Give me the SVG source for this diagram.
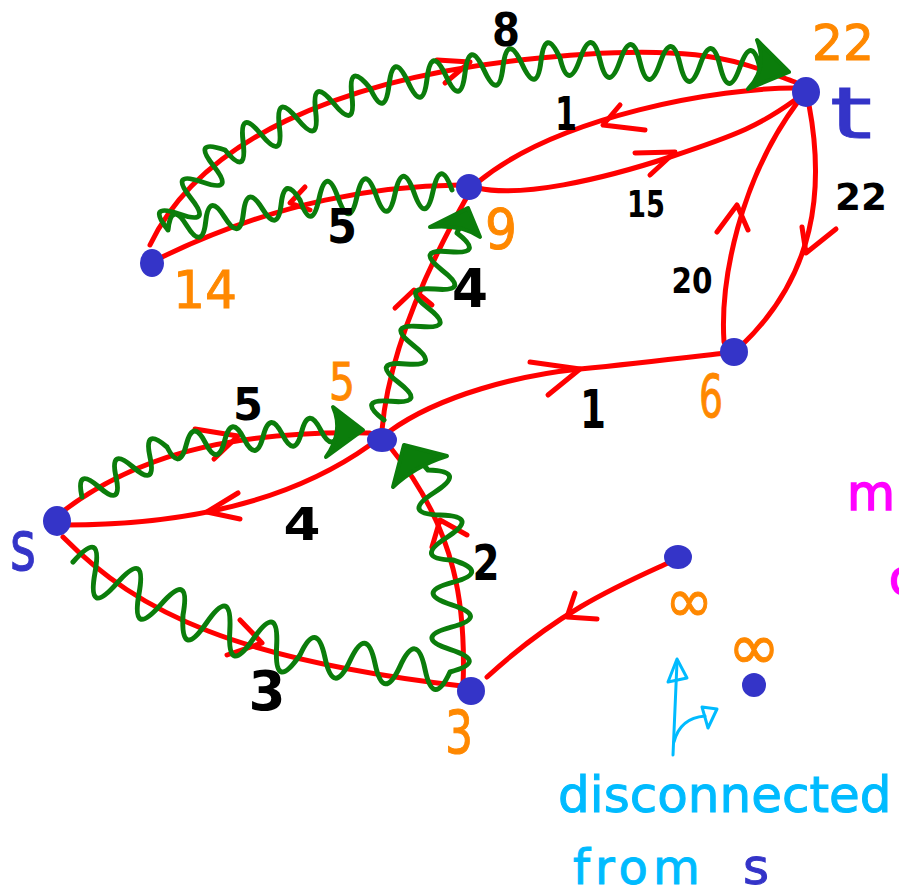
<svg xmlns="http://www.w3.org/2000/svg" width="899" height="895" viewBox="0 0 899 895">
<style>
.e{fill:none;stroke:#ff0000;stroke-width:5;stroke-linecap:round;stroke-linejoin:round}
.w{fill:none;stroke:#0b7d0b;stroke-width:5;stroke-linecap:round;stroke-linejoin:round}
.h{fill:#0b7d0b;stroke:#0b7d0b;stroke-width:4;stroke-linejoin:round}
.n{fill:#3434c8}
.k{font-family:"DejaVu Sans",sans-serif;font-weight:bold;fill:#000;text-anchor:middle}
.o{font-family:"DejaVu Sans",sans-serif;fill:#ff8800;stroke:#ff8800;stroke-width:1;text-anchor:middle}
.b{font-family:"DejaVu Sans",sans-serif;fill:#3434c8;stroke:#3434c8;stroke-width:1}
.c{font-family:"DejaVu Sans",sans-serif;fill:#00bbff;stroke:#00bbff;stroke-width:1}
.m{font-family:"DejaVu Sans",sans-serif;fill:#ff00ff;stroke:#ff00ff;stroke-width:1.5}
.a{fill:none;stroke:#00bbff;stroke-width:3;stroke-linecap:round;stroke-linejoin:round}
</style>
<rect width="899" height="895" fill="#ffffff"/>
<g id="connectors">
  <path class="e" d="M62,512 C130,460 220,430 370,433"/>
  <path class="e" d="M195,429 L238,436 L214,459"/>
  <path class="e" d="M370,445 C300,495 200,525 65,525"/>
  <path class="e" d="M238,493 L207,512 L240,519"/>
  <path class="e" d="M63,537 C140,615 240,660 462,686"/>
  <path class="e" d="M240,620 L262,643 L227,655"/>
  <path class="e" d="M463,686 C466,610 458,530 390,447"/>
  <path class="e" d="M432,547 L440,520 L467,535"/>
  <path class="e" d="M382,430 C388,360 420,280 468,195"/>
  <path class="e" d="M395,308 L414,290 L432,305"/>
  <path class="e" d="M390,431 C440,395 520,375 580,369 S690,357 725,353"/>
  <path class="e" d="M530,362 L580,369 L548,395"/>
  <path class="e" d="M724,342 C720,280 740,180 797,103"/>
  <path class="e" d="M717,232 L737,205 L748,230"/>
  <path class="e" d="M809,105 C825,190 815,275 742,345"/>
  <path class="e" d="M802,227 L806,253 L836,229"/>
  <path class="e" d="M478,188 C520,198 600,180 670,157 S760,125 795,100"/>
  <path class="e" d="M635,153 L675,152 L650,175"/>
  <path class="e" d="M795,88 C720,88 560,115 478,182"/>
  <path class="e" d="M620,105 L603,125 L645,130"/>
  <path class="e" d="M460,185 C380,186 280,200 160,258"/>
  <path class="e" d="M305,187 L290,203 L310,210"/>
  <path class="e" d="M150,245 C200,140 340,80 520,60 S740,62 795,82"/>
  <path class="e" d="M437,60 L470,62 L445,83"/>
  <path class="e" d="M668,563 C620,585 560,610 487,677"/>
  <path class="e" d="M575,593 L567,617 L597,619"/>

  <path class="w" d="M82,497 q-6.71,-30.86 17,-10 t17,-10 t17,-10 t17,-10 t17,-10 q12.44,24.79 19.22,-2.11 t19.22,-2.11 t19.22,-2.11 t19.22,-2.11 t19.22,-2.11 t19.22,-2.11 t19.22,-2.11 t19.22,-2.11 t19.22,-2.11 l16,2"/>
  <path class="h" d="M333,407 L363,430 L326,457 Q344,432 333,407 Z"/>
  <path class="w" d="M73,562 q30.10,-34.34 22,10.6 t22,10.6 t22,10.6 t22,10.6 t22,10.6 q-2.54,45.65 23.4,8 t23.4,8 t23.4,8 t23.4,8 t23.4,8 q16.78,-36.34 25,2.833 t25,2.833 t25,2.833 t25,2.833 t25,2.833 t25,2.833 q38.28,-10.18 0.6,-22.4 t0.6,-22.4 t0.6,-22.4 t0.6,-22.4 t0.6,-22.4 q-39.74,-1.08 -6.25,-22.5 t-6.25,-22.5 t-6.25,-22.5 t-6.25,-22.5 l-14,-16"/>
  <path class="h" d="M447,456 L404,445 L393,487 Q415,466 447,456 Z"/>
  <path class="w" d="M384,420 q-28.03,-21.72 7.3,-18.7 t7.3,-18.7 t7.3,-18.7 t7.3,-18.7 t7.3,-18.7 t7.3,-18.7 t7.3,-18.7 t7.3,-18.7 t7.3,-18.7 t7.3,-18.7 l6,-14"/>
  <path class="h" d="M430,227 L468,208 L480,237 Q462,224 430,227 Z"/>
  <path class="w" d="M452,190 q-11.73,-33.31 -19,1.25 t-19,1.25 t-19,1.25 t-19,1.25 t-19,1.25 t-19,1.25 t-19,1.25 t-19,1.25 q-15.63,-25.16 -18.857,4.286 t-18.857,4.286 t-18.857,4.286 t-18.857,4.286 t-18.857,4.286 t-18.857,4.286 t-18.857,4.286 q-22.0,-27.73 11.4,-16 t11.4,-16 t11.4,-16 t11.4,-16 t11.4,-16 q22.43,27.39 18.125,-7.75 t18.125,-7.75 t18.125,-7.75 t18.125,-7.75 t18.125,-7.75 t18.125,-7.75 t18.125,-7.75 t18.125,-7.75 q14.80,32.08 19,-3 t19,-3 t19,-3 t19,-3 t19,-3 t19,-3 t19,-3 t19,-3 t19,-3 t19,-3 q8.30,34.46 20,1 t20,1 t20,1 t20,1 t20,1 t20,1 t20,1 t20,1 t20,1 t20,1 l16,3"/>
  <path class="h" d="M757,40 L789,72 L748,89 Q768,68 757,40 Z"/>

  <text class="k" x="506" y="46" font-size="46" textLength="28" lengthAdjust="spacingAndGlyphs">8</text>
  <text class="k" x="566" y="130" font-size="46" textLength="22" lengthAdjust="spacingAndGlyphs">1</text>
  <text class="k" x="646" y="217" font-size="38" textLength="38" lengthAdjust="spacingAndGlyphs">15</text>
  <text class="k" x="861" y="210" font-size="37" textLength="52" lengthAdjust="spacingAndGlyphs">22</text>
  <text class="k" x="342" y="243" font-size="48" textLength="30" lengthAdjust="spacingAndGlyphs">5</text>
  <text class="k" x="470" y="307" font-size="54" textLength="36" lengthAdjust="spacingAndGlyphs">4</text>
  <text class="k" x="692" y="293" font-size="36" textLength="41" lengthAdjust="spacingAndGlyphs">20</text>
  <text class="k" x="593" y="428" font-size="54" textLength="26" lengthAdjust="spacingAndGlyphs">1</text>
  <text class="k" x="248" y="420" font-size="45" textLength="30" lengthAdjust="spacingAndGlyphs">5</text>
  <text class="k" x="302" y="540" font-size="45" textLength="37" lengthAdjust="spacingAndGlyphs">4</text>
  <text class="k" x="486" y="580" font-size="50" textLength="27" lengthAdjust="spacingAndGlyphs">2</text>
  <text class="k" x="267" y="710" font-size="56" textLength="37" lengthAdjust="spacingAndGlyphs">3</text>
  <path class="a" d="M673,755 L677,662"/>
  <path class="a" d="M668,682 L677,659 L687,678 Z"/>
  <path class="a" d="M674,742 Q680,718 705,716"/>
  <path class="a" d="M702,707 L717,709 L708,728 Z"/>
</g>
<g id="node-s">
  <ellipse class="n" cx="57" cy="521" rx="14" ry="15"/>
  <text class="b" x="10" y="570" font-size="70" textLength="26" lengthAdjust="spacingAndGlyphs">s</text>
</g>
<g id="node-5">
  <ellipse class="n" cx="382" cy="440" rx="15" ry="12"/>
  <text class="o" x="342" y="400" font-size="52" textLength="26" lengthAdjust="spacingAndGlyphs">5</text>
</g>
<g id="node-9">
  <circle class="n" cx="469" cy="187" r="13"/>
  <text class="o" x="501" y="248" font-size="56" textLength="32" lengthAdjust="spacingAndGlyphs">9</text>
</g>
<g id="node-14">
  <ellipse class="n" cx="152" cy="263" rx="12" ry="14"/>
  <text class="o" x="205" y="308" font-size="52" textLength="64" lengthAdjust="spacingAndGlyphs">14</text>
</g>
<g id="node-t">
  <ellipse class="n" cx="806" cy="92" rx="14" ry="15"/>
  <text class="o" x="843" y="60" font-size="50" textLength="62" lengthAdjust="spacingAndGlyphs">22</text>
  <text class="b" x="830" y="138" font-size="71" textLength="42" lengthAdjust="spacingAndGlyphs">t</text>
</g>
<g id="node-6">
  <circle class="n" cx="734" cy="352" r="14"/>
  <text class="o" x="711" y="417" font-size="58" textLength="24" lengthAdjust="spacingAndGlyphs">6</text>
</g>
<g id="node-3">
  <circle class="n" cx="471" cy="691" r="14"/>
  <text class="o" x="459" y="753" font-size="58" textLength="28" lengthAdjust="spacingAndGlyphs">3</text>
</g>
<g id="node-inf1">
  <ellipse class="n" cx="678" cy="557" rx="14" ry="12"/>
  <text class="o" x="689" y="600" font-size="62" dominant-baseline="central" textLength="48" lengthAdjust="spacingAndGlyphs">∞</text>
</g>
<g id="node-inf2">
  <circle class="n" cx="754" cy="685" r="12"/>
  <text class="o" x="754" y="647" font-size="64" dominant-baseline="central" textLength="52" lengthAdjust="spacingAndGlyphs">∞</text>
</g>
<g id="note">
  <text class="c" x="558" y="812" font-size="50">disconnected</text>
  <text class="c" x="573" y="884" font-size="48" letter-spacing="5">from</text>
  <text class="b" x="743" y="884" font-size="50">s</text>
  <text class="m" x="847" y="510" font-size="50" textLength="48" lengthAdjust="spacingAndGlyphs">m</text>
  <text class="m" x="889" y="594" font-size="48">o</text>
</g>
</svg>
